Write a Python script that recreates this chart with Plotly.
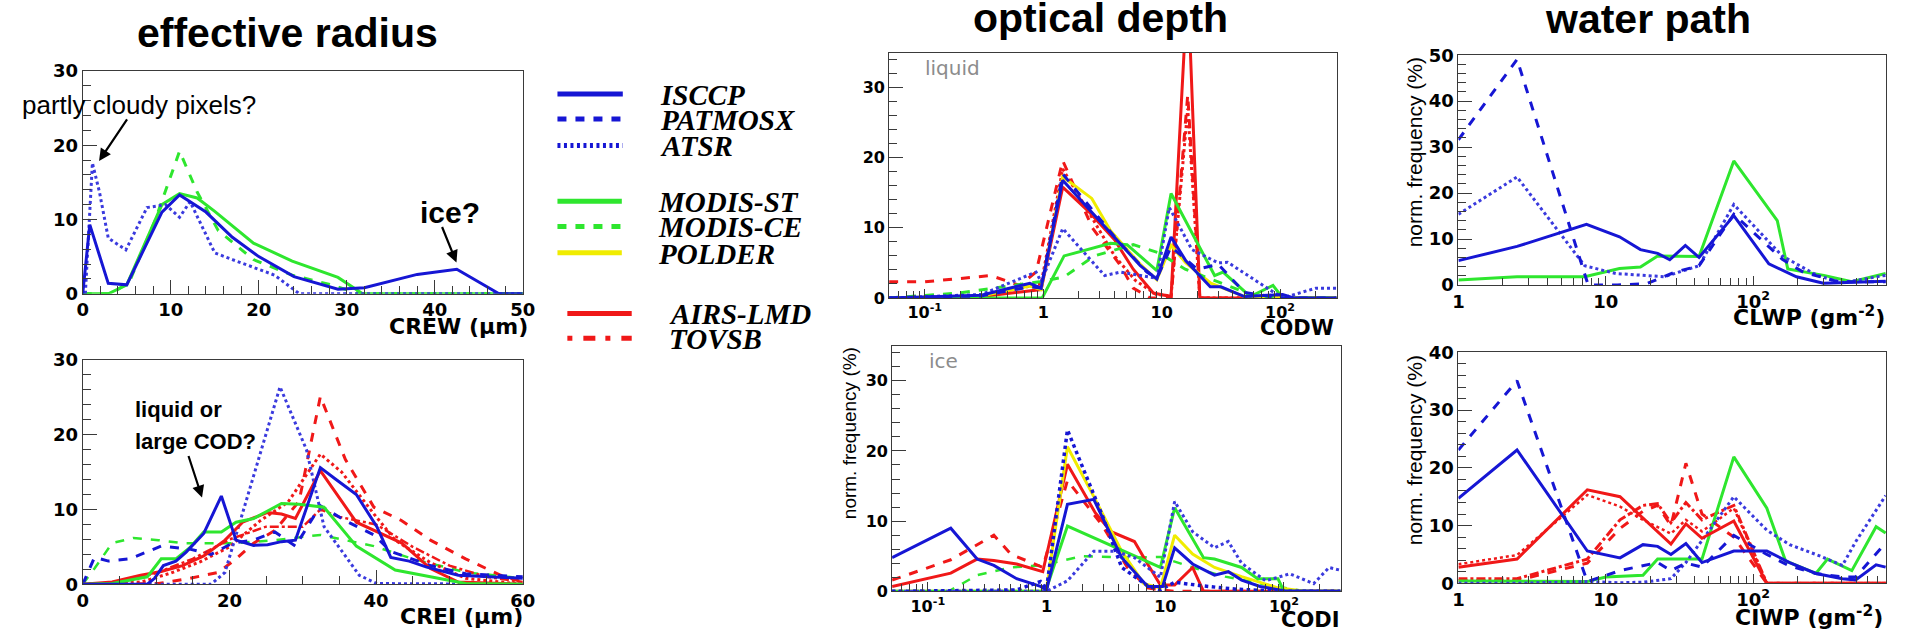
import plotly.graph_objects as go

W, H = 1910, 641

# ---------------- data ----------------
# effective radius, liquid (CREW, um)
crew_isccp_x = [0, 0.8, 2.9, 5, 9, 11, 14, 17, 20, 24, 29, 32, 38, 42.5, 47.3, 50]
crew_isccp_y = [0, 9.3, 1.4, 1.2, 11, 13.3, 11, 7.6, 5, 2.3, 0.6, 0.8, 2.6, 3.3, 0, 0]
crew_atsr_x = [0.3, 1.1, 1.9, 2.9, 4.9, 7.3, 9.4, 11, 12.2, 13.8, 15, 17, 21.8, 24.6, 50]
crew_atsr_y = [0, 17.6, 13.7, 7.5, 5.9, 11.6, 12, 10.3, 12.4, 8.5, 5.5, 4.6, 2.5, 0, 0]
crew_mst_x = [0, 2.9, 5, 9, 11, 13, 15, 19.4, 23.8, 29, 31.8, 50]
crew_mst_y = [0, 0, 1.2, 12, 13.5, 12.9, 11.1, 6.8, 4.4, 2.2, 0, 0]
crew_mce_x = [0, 3.3, 5.3, 8.2, 11, 13, 15.4, 19.4, 23.8, 28.2, 31.4, 50]
crew_mce_y = [0, 0, 1.6, 9.8, 19.2, 13.7, 8.5, 4.6, 2.5, 1.2, 0, 0]

# effective radius, ice (CREI, um)
crei_isccp_x = [0, 8.8, 9.8, 11, 12.7, 14.1, 16.5, 18.9, 20.9, 23.3, 25.2, 27.1, 29, 32.4, 34.4, 37.3, 40.1, 42, 44.5, 46.9, 51.2, 60]
crei_isccp_y = [0, 0, 0.8, 2.5, 3.1, 4.3, 6.8, 11.8, 5.9, 5.2, 5.3, 5.7, 5.9, 15.6, 14.1, 12, 7.7, 3.6, 3.1, 2.3, 1.2, 0.8]
crei_patmos_x = [0, 1.6, 3.5, 6.4, 10.7, 14.6, 17.5, 20.4, 23.3, 26.2, 29, 32.4, 35.8, 39.7, 42, 47.4, 52.2, 60]
crei_patmos_y = [0, 3.6, 3.1, 3.4, 5.1, 4.7, 4.0, 5.5, 5.9, 7.0, 5.1, 10.5, 8.5, 6.6, 4.4, 2.5, 1.4, 1.0]
crei_atsr_x = [0, 17.5, 19.4, 23.3, 26.9, 30.5, 32.9, 35.8, 37.7, 40.1, 60]
crei_atsr_y = [0, 0, 1.6, 14.6, 26.4, 18, 7.7, 3.8, 1.2, 0.1, 0]
crei_mst_x = [0, 4, 8.8, 10.7, 12.7, 14.6, 16.5, 18.9, 20.9, 23.3, 25.2, 27.1, 29.5, 32.9, 37.3, 42.6, 47.4, 52.2, 60]
crei_mst_y = [0, 0.1, 1.0, 3.4, 3.4, 4.9, 7.0, 7.0, 8.3, 8.8, 9.8, 10.8, 10.7, 10.3, 5.1, 1.9, 1.0, 0.1, 0]
crei_mce_x = [0, 1.6, 4, 6.9, 10.3, 13.6, 17.5, 20.9, 26.2, 32.4, 35.8, 39.7, 45, 52.2, 60]
crei_mce_y = [0, 2.1, 5.5, 6.2, 5.9, 5.5, 5.5, 5.5, 5.9, 6.6, 5.9, 5.1, 3.4, 1.6, 0.8]
crei_airs_x = [0, 4, 7.9, 10.7, 13.6, 16.5, 19.4, 21.8, 25.2, 27.1, 29, 32.4, 37.3, 40.6, 43.5, 47.4, 51.2, 60]
crei_airs_y = [0, 0.3, 1.2, 1.7, 2.5, 3.8, 5.9, 8.3, 9.6, 9.4, 8.8, 15.2, 8.3, 6.8, 5.5, 2.1, 0.3, 0]
crei_rdash_x = [0, 10.3, 14.6, 18.5, 20.9, 23.3, 26.2, 29.5, 32.4, 35.8, 39.7, 43.5, 47.4, 52.2, 57, 60]
crei_rdash_y = [0, 0.1, 0.8, 1.6, 3.4, 5.5, 7.2, 11.1, 25.1, 16.7, 10.3, 8.5, 5.9, 3.4, 1.2, 0.3]
crei_rdot_x = [0, 8, 12, 16, 20, 24.2, 28, 32.4, 35.3, 39.7, 42.6, 47.4, 52.2, 60]
crei_rdot_y = [0, 0.3, 1.5, 3.0, 5.0, 8.5, 11, 17.4, 15, 9.4, 5.9, 2.9, 0.8, 0]
crei_tovs_x = [0, 5, 10, 15, 20, 25, 30, 32.4, 35, 40, 45, 50, 55, 60]
crei_tovs_y = [0, 0.2, 1.5, 3.4, 6.0, 7.7, 7.7, 10.0, 9.0, 8.0, 5.0, 2.5, 1.0, 0.3]

# optical depth, liquid (CODW)
codw_isccp_x = [0.05, 0.3, 0.77, 0.96, 1.46, 3.7, 6.6, 9.1, 12, 16, 25.7, 31.6, 50, 105, 130, 300]
codw_isccp_y = [0, 0.4, 2.1, 1.4, 16.8, 9.2, 4.6, 2.7, 8.7, 5.3, 1.6, 1.6, 0.2, 0.5, 0, 0]
codw_patmos_x = [0.05, 0.3, 0.77, 0.96, 1.46, 4.2, 7.5, 9.1, 12, 20, 30, 50, 100, 300]
codw_patmos_y = [0, 0.3, 1.6, 1.4, 17.7, 8.3, 3.7, 2.8, 7.3, 4.1, 4.8, 0.8, 0, 0]
codw_atsr_x = [0.05, 0.3, 0.87, 0.96, 1.46, 3.3, 4.5, 9.1, 11.6, 18, 30, 36, 78, 105, 200, 257, 300]
codw_atsr_y = [0, 0.5, 3.7, 2.3, 9.9, 3.2, 3.7, 2.8, 12.9, 6.9, 5.0, 5.1, 1.4, 0, 1.4, 1.4, 1.4]
codw_mst_x = [0.05, 0.98, 1.5, 3.7, 5.1, 9.1, 12, 28, 33, 56, 87, 105, 300]
codw_mst_y = [0, 0, 6.0, 7.8, 7.6, 3.9, 14.9, 3.2, 3.7, 0.2, 1.8, 0, 0]
codw_mce_x = [0.05, 0.19, 0.93, 1.5, 2.7, 5.75, 9.6, 15.8, 30, 56, 100, 300]
codw_mce_y = [0, 0.7, 2.3, 3.0, 6.0, 7.6, 6.4, 4.1, 2.3, 0.5, 0, 0]
codw_polder_x = [0.05, 0.3, 0.77, 0.96, 1.46, 2.57, 3.7, 6.6, 9.1, 12, 16, 26, 50, 100, 300]
codw_polder_y = [0, 0.3, 1.7, 1.2, 17.3, 14.2, 9.6, 4.8, 2.6, 7.5, 5.0, 2.1, 0.2, 0, 0]
codw_airs_x = [0.05, 0.3, 0.96, 1.46, 2.4, 4.0, 5.75, 8.5, 12, 16.6, 21, 300]
codw_airs_y = [0, 0.2, 1.2, 15.8, 12.4, 8.3, 4.1, 0.7, 0.2, 45, 0, 0]
codw_tovs_x = [0.05, 0.1, 0.36, 0.63, 0.87, 1.46, 2.6, 4.5, 5.75, 8, 12, 16.6, 21, 300]
codw_tovs_y = [2.3, 2.3, 3.2, 1.8, 3.7, 19.6, 10, 4.6, 1.4, 0, 0, 29, 0, 0]
codw_rdot_x = [0.05, 0.3, 0.96, 1.46, 2.57, 4, 6, 9, 12, 16.6, 21, 300]
codw_rdot_y = [0, 0.3, 2.0, 18.4, 11.5, 6.0, 2.5, 0.5, 0.3, 27, 0, 0]

# optical depth, ice (CODI)
codi_isccp_x = [0.05, 0.156, 0.26, 0.36, 0.56, 0.89, 1.0, 1.5, 2.5, 4.3, 7.1, 9.5, 12, 17, 26, 34, 44, 63, 100, 300]
codi_isccp_y = [4.8, 9.0, 4.6, 3.7, 1.8, 0.7, 0.2, 12.4, 13.1, 4.8, 0.7, 0.7, 6.2, 3.9, 2.3, 2.8, 1.6, 0.7, 0.1, 0]
codi_patmos_x = [0.05, 0.56, 0.89, 1.0, 1.5, 2.95, 4.3, 7.1, 9.1, 12, 20, 40, 100, 300]
codi_patmos_y = [0, 0.2, 1.4, 0.3, 23, 10.8, 3.4, 0.8, 0.2, 1.3, 0.8, 0.3, 0, 0]
codi_atsr_x = [0.05, 1.0, 1.5, 2.5, 3.8, 5.5, 9.1, 12, 17, 26, 34, 44, 70, 112, 178, 240, 300]
codi_atsr_y = [0, 0, 1.5, 5.7, 5.7, 4.8, 2.0, 12.8, 8.5, 6.2, 7.1, 4.0, 1.5, 2.5, 1.1, 3.4, 3.0]
codi_polder_x = [0.05, 0.9, 1.0, 1.5, 2.5, 4.3, 6.6, 9.1, 12, 17, 26, 44, 89, 150, 300]
codi_polder_y = [0, 0, 0.3, 20.6, 13.5, 5.7, 1.1, 0.5, 8.0, 5.3, 3.4, 2.1, 0.5, 0, 0]
codi_airs_x = [0.05, 0.156, 0.26, 0.36, 0.56, 0.93, 1.5, 2.57, 3.5, 5.5, 7.1, 9.1, 12, 17, 21, 300]
codi_airs_y = [0.7, 2.6, 4.6, 4.4, 3.9, 2.8, 18.1, 11.2, 8.5, 7.1, 3.9, 0.9, 0.9, 3.4, 0, 0]
codi_tovs_x = [0.05, 0.156, 0.36, 0.5, 0.93, 1.5, 2.95, 4.8, 7.1, 9.1, 12, 300]
codi_tovs_y = [1.6, 4.5, 8.0, 5.3, 3.4, 15.8, 9.4, 3.4, 0.5, 0.2, 0, 0]
codi_mst_x = [0.05, 0.98, 1.5, 3.3, 5.5, 9.1, 12, 21, 26, 44, 60, 89, 100, 300]
codi_mst_y = [0, 0, 9.3, 6.7, 5.0, 3.4, 11.9, 4.8, 4.6, 3.4, 1.8, 1.8, 0, 0]
codi_mce_x = [0.05, 0.15, 0.26, 0.5, 0.89, 2, 5, 9.1, 17, 32, 85, 150, 300]
codi_mce_y = [0, 0, 2.3, 3.4, 3.7, 5.0, 4.8, 4.9, 3.4, 2.1, 0.7, 0, 0]

# water path, liquid (CLWP, g m-2)
clwp_isccp_x = [1, 2.5, 7.4, 12.4, 17.2, 22.5, 27.2, 34.7, 43, 74, 128, 197, 300, 794]
clwp_isccp_y = [5.3, 8.4, 13.2, 10.5, 7.7, 6.9, 5.5, 8.6, 6.0, 15.1, 4.6, 1.8, 0.4, 0.8]
clwp_patmos_x = [1, 2.5, 7.6, 12, 19, 29.5, 43, 74, 158, 219, 380, 794]
clwp_patmos_y = [31.6, 49.1, 0, 0, 0.3, 2.8, 4.2, 15.4, 5.6, 2.8, 0.7, 0.7]
clwp_atsr_x = [1, 2.5, 7.2, 11.7, 25, 43, 74, 158, 272, 400, 794]
clwp_atsr_y = [15.4, 23.5, 4.2, 2.5, 1.8, 4.2, 17.5, 6.3, 2.1, 0.5, 2.1]
clwp_mst_x = [1, 2.5, 7.2, 12.4, 17.2, 22.5, 43, 74, 146, 172, 302, 468, 794]
clwp_mst_y = [1.1, 1.8, 1.8, 3.6, 3.9, 6.3, 6.2, 27, 14, 3.5, 2.1, 0.7, 2.5]

# water path, ice (CIWP, g m-2)
ciwp_isccp_x = [1, 2.5, 7.5, 12.5, 17.9, 22.5, 27.7, 35, 45, 74, 124, 177, 267, 404, 497, 684, 794]
ciwp_isccp_y = [14.7, 23.1, 5.6, 4.4, 6.7, 6.4, 5.0, 6.9, 3.6, 5.6, 5.6, 3.6, 1.7, 0.8, 0.6, 3.2, 2.8]
ciwp_patmos_x = [1, 2.5, 7.5, 12.5, 22.5, 27.7, 35, 45, 74, 124, 177, 267, 404, 497, 794]
ciwp_patmos_y = [23.1, 35.1, 0.3, 2.2, 3.6, 2.2, 3.5, 2.8, 8.3, 5.0, 3.0, 1.7, 1.1, 1.1, 7.0]
ciwp_atsr_x = [1, 2.5, 7.5, 12.5, 17.9, 27.7, 35, 74, 124, 177, 280, 404, 497, 794]
ciwp_atsr_y = [0, 0, 0.3, 0.1, 0.2, 0.8, 3.6, 15, 9.2, 6.7, 4.8, 3.1, 7.2, 15.2]
ciwp_airs_x = [1, 2.5, 7.5, 12.5, 27.7, 35, 45, 74, 124, 794]
ciwp_airs_y = [2.8, 4.2, 16.2, 15.0, 6.8, 10.3, 7.8, 10.8, 0, 0]
ciwp_rdot_x = [1, 2.5, 7.5, 12.5, 17.9, 27.7, 35, 45, 74, 124, 794]
ciwp_rdot_y = [3.3, 4.9, 15.3, 13.3, 11, 8.6, 11, 9, 13, 0, 0]
ciwp_rdash_x = [1, 2.5, 7.5, 12.5, 17.9, 22.5, 27.7, 35, 45, 74, 124, 794]
ciwp_rdash_y = [0.5, 0.5, 3.5, 9.5, 12.5, 13.5, 10, 20.8, 12, 8, 0, 0]
ciwp_tovs_x = [1, 2.5, 7.5, 12.5, 17.9, 22.5, 27.7, 35, 45, 74, 124, 794]
ciwp_tovs_y = [0.8, 0.8, 4.2, 11, 13.5, 13.8, 10.5, 14, 11, 13.5, 0, 0]
ciwp_mst_x = [1, 2.5, 7.5, 10, 17.9, 22.5, 35, 45, 74, 124, 166, 267, 320, 468, 684, 794]
ciwp_mst_y = [0.4, 0.4, 0.3, 1.1, 1.4, 4.2, 4.2, 4.2, 21.9, 13, 3.9, 1.7, 4.2, 2.2, 9.8, 8.7]

legend_names = ["ISCCP", "PATMOSX", "ATSR", "MODIS-ST", "MODIS-CE", "POLDER", "AIRS-LMD", "TOVSB"]

# ---------------- styling ----------------
BLUE = "#1616d4"
BLUE_DOT = "#3a3ade"
GREEN = "#2ee62e"
RED = "#f01818"
YELLOW = "#f0ec00"
FRAME = "#3a3a3a"

def X(p):
    return p / W

def Y(p):
    return 1 - p / H

fig = go.Figure()

def add(panel, xs, ys, color, dash="solid", width=3):
    sfx = "" if panel == 1 else str(panel)
    fig.add_trace(go.Scatter(x=xs, y=ys, mode="lines", xaxis="x" + sfx, yaxis="y" + sfx,
                             line=dict(color=color, dash=dash, width=width),
                             showlegend=False, hoverinfo="skip"))

# panel 1
add(1, crew_mce_x, crew_mce_y, GREEN, "dash")
add(1, crew_mst_x, crew_mst_y, GREEN)
add(1, crew_atsr_x, crew_atsr_y, BLUE_DOT, "dot")
add(1, crew_isccp_x, crew_isccp_y, BLUE)
# panel 2
add(2, crei_mce_x, crei_mce_y, GREEN, "dash", 2.5)
add(2, crei_rdot_x, crei_rdot_y, RED, "dot")
add(2, crei_tovs_x, crei_tovs_y, RED, "dashdot", 2.5)
add(2, crei_rdash_x, crei_rdash_y, RED, "dash")
add(2, crei_atsr_x, crei_atsr_y, BLUE_DOT, "dot")
add(2, crei_patmos_x, crei_patmos_y, BLUE, "dash")
add(2, crei_airs_x, crei_airs_y, RED)
add(2, crei_mst_x, crei_mst_y, GREEN)
add(2, crei_isccp_x, crei_isccp_y, BLUE)
# panel 3
add(3, codw_rdot_x, codw_rdot_y, RED, "dot")
add(3, codw_tovs_x, codw_tovs_y, RED, "dash")
add(3, codw_airs_x, codw_airs_y, RED)
add(3, codw_polder_x, codw_polder_y, YELLOW)
add(3, codw_mce_x, codw_mce_y, GREEN, "dash")
add(3, codw_mst_x, codw_mst_y, GREEN)
add(3, codw_atsr_x, codw_atsr_y, BLUE_DOT, "dot")
add(3, codw_patmos_x, codw_patmos_y, BLUE, "dash")
add(3, codw_isccp_x, codw_isccp_y, BLUE)
# panel 4
add(4, codi_mce_x, codi_mce_y, GREEN, "dash", 2.5)
add(4, codi_tovs_x, codi_tovs_y, RED, "dash")
add(4, codi_airs_x, codi_airs_y, RED)
add(4, codi_polder_x, codi_polder_y, YELLOW)
add(4, codi_mst_x, codi_mst_y, GREEN)
add(4, codi_atsr_x, codi_atsr_y, BLUE_DOT, "dot")
add(4, codi_patmos_x, codi_patmos_y, BLUE, "dot", 3.5)
add(4, codi_isccp_x, codi_isccp_y, BLUE)
# panel 5
add(5, clwp_mst_x, clwp_mst_y, GREEN)
add(5, clwp_atsr_x, clwp_atsr_y, BLUE_DOT, "dot")
add(5, clwp_patmos_x, clwp_patmos_y, BLUE, "dash")
add(5, clwp_isccp_x, clwp_isccp_y, BLUE)
# panel 6
add(6, ciwp_rdot_x, ciwp_rdot_y, RED, "dot", 2.5)
add(6, ciwp_rdash_x, ciwp_rdash_y, RED, "dash")
add(6, ciwp_tovs_x, ciwp_tovs_y, RED, "dashdot")
add(6, ciwp_mst_x, ciwp_mst_y, GREEN)
add(6, ciwp_atsr_x, ciwp_atsr_y, BLUE_DOT, "dot")
add(6, ciwp_patmos_x, ciwp_patmos_y, BLUE, "dash")
add(6, ciwp_airs_x, ciwp_airs_y, RED)
add(6, ciwp_isccp_x, ciwp_isccp_y, BLUE)

# ---------------- axes ----------------
def tickfont(sz):
    return dict(family="DejaVu Sans", size=sz, color="black", weight="bold")

base = dict(showline=True, mirror=True, linecolor=FRAME, linewidth=1, ticks="inside",
            ticklen=14, tickwidth=1, tickcolor=FRAME, showgrid=False, zeroline=False,
            fixedrange=True)

def lin_y(dom, top, sz):
    return dict(base, domain=dom, range=[0, top], tickvals=list(range(0, top + 1, 10)),
                tickfont=tickfont(sz),
                minor=dict(ticks="inside", ticklen=8, dtick=2, tickcolor=FRAME, showgrid=False))

def lin_x(dom, top, major, minor, sz, anchor):
    return dict(base, domain=dom, range=[0, top], tickvals=list(range(0, top + 1, major)),
                tickfont=tickfont(sz), anchor=anchor,
                minor=dict(ticks="inside", ticklen=8, dtick=minor, tickcolor=FRAME, showgrid=False))

def log_minor(lo, hi):
    vals = []
    d = lo
    while d <= hi:
        for k in range(2, 10):
            vals.append(k * d)
        d *= 10
    return vals

def log_x(dom, rng, tv, tt, sz, anchor, mlo, mhi):
    return dict(base, domain=dom, type="log", range=rng, tickvals=tv, ticktext=tt,
                tickfont=tickfont(sz), anchor=anchor, ticklen=9,
                minor=dict(ticks="inside", ticklen=7, tickmode="array",
                           tickvals=log_minor(mlo, mhi), tickcolor=FRAME, showgrid=False))

p1x = [X(77.5), X(522)]
p3x = [X(892), X(1344)]
p4x = [X(895), X(1348)]
p5x = [X(1467), X(1899)]

cod_tv = [0.1, 1, 10, 100]
cod_tt = ["10<sup>-1</sup>", "1", "10", "10<sup>2</sup>"]
wp_tv = [1, 10, 100]
wp_tt = ["1", "10", "10<sup>2</sup>"]

fig.update_layout(
    width=W, height=H, margin=dict(l=0, r=0, t=0, b=0),
    paper_bgcolor="white", plot_bgcolor="white", showlegend=False,
    xaxis=lin_x(p1x, 50, 10, 2, 18, "y"),
    yaxis=lin_y([Y(292.3), Y(62)], 30, 18) | dict(anchor="x"),
    xaxis2=lin_x(p1x, 60, 20, 5, 18, "y2"),
    yaxis2=lin_y([Y(592.7), Y(360.7)], 30, 18) | dict(anchor="x2"),
    xaxis3=log_x(p3x, [-1.301, 2.477], cod_tv, cod_tt, 16, "y3", 0.01, 100),
    yaxis3=lin_y([Y(296.7), Y(43)], 35, 16) | dict(anchor="x3"),
    xaxis4=log_x(p4x, [-1.301, 2.477], cod_tv, cod_tt, 16, "y4", 0.01, 100),
    yaxis4=lin_y([Y(600), Y(346)], 35, 16) | dict(anchor="x4"),
    xaxis5=log_x(p5x, [0, 2.903], wp_tv, wp_tt, 18, "y5", 1, 100),
    yaxis5=lin_y([Y(283.3), Y(45.7)], 50, 18) | dict(anchor="x5"),
    xaxis6=log_x(p5x, [0, 2.903], wp_tv, wp_tt, 18, "y6", 1, 100),
    yaxis6=lin_y([Y(591.7), Y(353)], 40, 18) | dict(anchor="x6"),
)
for ax in ["yaxis3", "yaxis4"]:
    fig.layout[ax].tickvals = [0, 10, 20, 30]

# ---------------- annotations ----------------
ann = []

def text(x, y, s, size, family="Liberation Sans, Arial", weight="normal", color="black",
         xanchor="left", yanchor="middle", style="normal", angle=0):
    ann.append(dict(x=X(x), y=Y(y), xref="paper", yref="paper", text=s, showarrow=False,
                    xanchor=xanchor, yanchor=yanchor, textangle=angle,
                    font=dict(family=family, size=size, color=color, weight=weight, style=style)))

# titles
text(284, 23, "effective radius", 41, weight="bold", xanchor="center")
text(1106, 7, "optical depth", 41, weight="bold", xanchor="center")
text(1658, 8, "water path", 41, weight="bold", xanchor="center")

# notes
text(14, 97, "partly cloudy pixels?", 26)
text(416, 208, "ice?", 30, weight="bold")
text(128, 412, "liquid or", 22, weight="bold")
text(128, 445, "large COD?", 22, weight="bold")

# axis titles
AX = "DejaVu Sans"
text(529, 326, "CREW (\u03bcm)", 22, family=AX, weight="bold", xanchor="right")
text(524, 626, "CREI (\u03bcm)", 22, family=AX, weight="bold", xanchor="right")
text(1343, 328, "CODW", 21, family=AX, weight="bold", xanchor="right")
text(1349, 630, "CODI", 21, family=AX, weight="bold", xanchor="right")
text(1900, 315, "CLWP (gm<sup>-2</sup>)", 22, family=AX, weight="bold", xanchor="right")
text(1898, 625, "CIWP (gm<sup>-2</sup>)", 22, family=AX, weight="bold", xanchor="right")

# in-panel labels
text(926, 59, "liquid", 20, family="DejaVu Sans", color="#8c8c8c")
text(930, 362, "ice", 20, family="DejaVu Sans", color="#8c8c8c")

# y titles
text(852, 346, "norm. frequency (%)", 19, xanchor="center", yanchor="top", angle=-90)
text(1423, 46, "norm. frequency (%)", 21, xanchor="center", yanchor="top", angle=-90)
text(1423, 354, "norm. frequency (%)", 21, xanchor="center", yanchor="top", angle=-90)

# arrows
def arrow(hx, hy, tx, ty):
    ann.append(dict(x=X(hx), y=Y(hy), xref="paper", yref="paper", text="", showarrow=True,
                    ax=tx - hx, ay=ty - hy, arrowhead=2, arrowsize=1.1, arrowwidth=2.2,
                    arrowcolor="black"))

arrow(94, 155, 123, 112)
arrow(455, 260, 440, 223)
arrow(198, 503, 184, 460)

# legend
leg_rows = [
    (557, 623, 85.7, BLUE, "solid", 659),
    (557, 623, 111.7, BLUE, "9px,9px", 659),
    (557, 623, 139, BLUE, "3px,3.5px", 659),
    (557, 622, 196.7, GREEN, "solid", 657),
    (557, 622, 222.7, GREEN, "9px,9px", 657),
    (557, 622, 250, YELLOW, "solid", 657),
    (567, 632, 312.7, RED, "solid", 668),
    (567, 632, 338.3, RED, "5px,11px,12px,10px", 668),
]
shapes = []
for (x0, x1, yy, col, dsh, tx), name in zip(leg_rows, legend_names):
    shapes.append(dict(type="line", xref="paper", yref="paper", x0=X(x0), x1=X(x1),
                       y0=Y(yy), y1=Y(yy), line=dict(color=col, width=5, dash=dsh)))
    text(tx, yy + 1, name, 29, family="Liberation Serif, Times New Roman", weight="bold",
         style="italic")

fig.update_layout(annotations=ann, shapes=shapes)
fig.write_html("out.html")
